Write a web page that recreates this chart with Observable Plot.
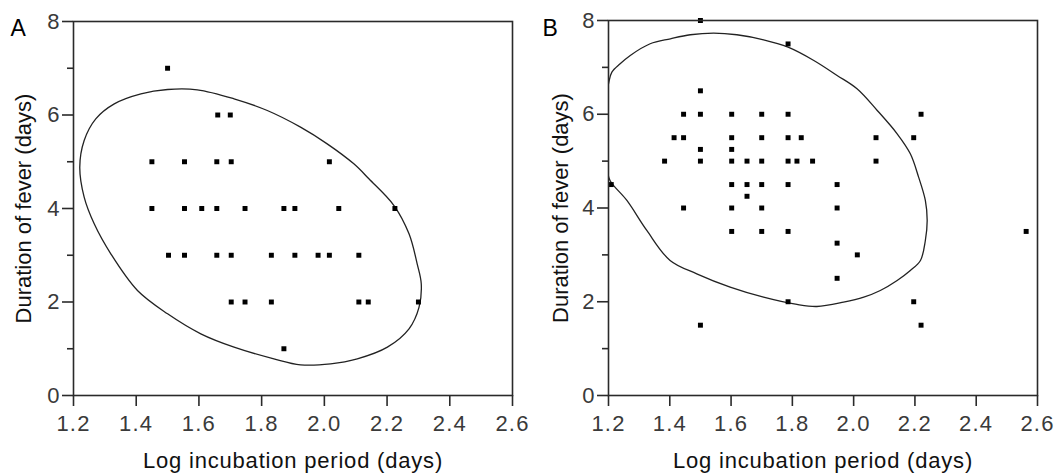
<!DOCTYPE html>
<html><head><meta charset="utf-8">
<script src="https://cdn.jsdelivr.net/npm/d3@7"></script>
<script src="https://cdn.jsdelivr.net/npm/@observablehq/plot@0.6"></script>
<style>
body{margin:0;background:#fff;}
#row{display:flex;width:1061px;height:473px;overflow:hidden;}
</style></head><body><div id="row"></div>
<script>
// Axis ticks
const xTicks = [1.2, 1.4, 1.6, 1.8, 2.0, 2.2, 2.4, 2.6];
const yTicks = [0, 2, 4, 6, 8];
const yMinorTicks = [1, 3, 5, 7];
const xLabel = "Log incubation period (days)";
const yLabel = "Duration of fever (days)";

// Panel A points
const aX = [1.50, 1.66, 1.70,
  1.45, 1.554, 1.657, 1.703, 2.016,
  1.45, 1.554, 1.609, 1.657, 1.747, 1.871, 1.906, 2.046, 2.225,
  1.503, 1.554, 1.657, 1.703, 1.831, 1.906, 1.98, 2.016, 2.11,
  1.703, 1.747, 1.831, 2.11, 2.14, 2.30,
  1.871];
const aY = [7, 6, 6,
  5, 5, 5, 5, 5,
  4, 4, 4, 4, 4, 4, 4, 4, 4,
  3, 3, 3, 3, 3, 3, 3, 3, 3,
  2, 2, 2, 2, 2, 2,
  1];

// Panel A ellipse outline
const aEllX = [1.220, 1.234, 1.271, 1.330, 1.415, 1.500, 1.595, 1.712, 1.818, 1.924, 2.009, 2.094, 2.142, 2.222, 2.270, 2.296, 2.309, 2.302, 2.270, 2.201, 2.105, 2.020, 1.924, 1.839, 1.712, 1.606, 1.500, 1.404, 1.319, 1.266, 1.234];
const aEllY = [4.884, 5.455, 5.918, 6.239, 6.453, 6.545, 6.538, 6.346, 6.096, 5.740, 5.383, 4.955, 4.635, 4.064, 3.458, 2.816, 2.389, 1.890, 1.426, 1.034, 0.784, 0.677, 0.656, 0.784, 1.034, 1.319, 1.747, 2.246, 3.030, 3.672, 4.242];

// Panel B points
const bX = [1.50, 1.786, 1.50,
  1.445, 1.50, 1.602, 1.70, 1.786, 2.22,
  1.414, 1.445, 1.602, 1.70, 1.786, 1.829, 2.073, 2.196,
  1.50, 1.602,
  1.383, 1.50, 1.602, 1.652, 1.70, 1.786, 1.815, 1.866, 2.073,
  1.209, 1.602, 1.652, 1.70, 1.786, 1.946,
  1.652,
  1.445, 1.602, 1.70, 1.946,
  1.602, 1.70, 1.786, 2.563,
  1.946, 2.012, 1.946,
  1.786, 2.196,
  1.50, 2.22];
const bY = [8, 7.5, 6.5,
  6, 6, 6, 6, 6, 6,
  5.5, 5.5, 5.5, 5.5, 5.5, 5.5, 5.5, 5.5,
  5.25, 5.25,
  5, 5, 5, 5, 5, 5, 5, 5, 5,
  4.5, 4.5, 4.5, 4.5, 4.5, 4.5,
  4.25,
  4, 4, 4, 4,
  3.5, 3.5, 3.5, 3.5,
  3.25, 3, 2.5,
  2, 2,
  1.5, 1.5];

// Panel B ellipse outline (left part runs past the frame)
const bEllX = [1.200, 1.211, 1.238, 1.271, 1.336, 1.402, 1.467, 1.543, 1.619, 1.706, 1.786, 1.870, 1.946, 2.011, 2.077, 2.142, 2.185, 2.212, 2.234, 2.240, 2.234, 2.218, 2.185, 2.142, 2.087, 2.033, 1.967, 1.880, 1.815, 1.706, 1.597, 1.488, 1.401, 1.325, 1.260, 1.205, 1.195, 1.185, 1.181, 1.187];
const bEllY = [6.650, 6.899, 7.077, 7.255, 7.504, 7.610, 7.696, 7.731, 7.696, 7.589, 7.432, 7.148, 6.828, 6.543, 6.081, 5.583, 5.156, 4.659, 4.161, 3.734, 3.307, 2.881, 2.667, 2.454, 2.240, 2.098, 1.991, 1.899, 1.942, 2.098, 2.312, 2.596, 2.881, 3.521, 4.161, 4.587, 4.85, 5.25, 5.75, 6.25];

const FONT = "'Liberation Sans', Arial, Helvetica, sans-serif";
const INK = "#2a2a2a";

function panel(opts) {
  const {letter, xs, ys, ex, ey, width, ml, mr, mt, mb, letterDx, letterDy, yLabDx} = opts;
  const pts = xs.map((x, i) => ({x, y: ys[i]}));
  const ell = ex.map((x, i) => ({x, y: ey[i]}));
  const svg = Plot.plot({
    width, height: 473,
    marginLeft: ml, marginRight: mr, marginTop: mt, marginBottom: mb,
    style: {fontFamily: FONT, fontSize: "22px", color: "#333", background: "#fff", overflow: "visible"},
    x: {domain: [1.2, 2.6]},
    y: {domain: [0, 8]},
    marks: [
      Plot.line(ell, {x: "x", y: "y", curve: "catmull-rom-closed", stroke: "#222", strokeWidth: 1.3, clip: true}),
      Plot.dot(pts, {x: "x", y: "y", symbol: "square", r: 2.8, fill: "#000", stroke: null}),
      Plot.frame({stroke: INK, strokeWidth: 1.6}),
      Plot.axisX({ticks: xTicks, tickFormat: d3.format(".1f"), tickSize: 11, tickPadding: 9, label: null, stroke: INK, strokeWidth: 1.6, fill: "#3a3a3a", fontSize: 22}),
      Plot.axisY({ticks: yTicks, tickFormat: d3.format("d"), tickSize: 11, tickPadding: 3, label: null, stroke: INK, strokeWidth: 1.6, fill: "#3a3a3a", fontSize: 22}),
      Plot.axisY({ticks: yMinorTicks, tickFormat: () => "", tickSize: 6, label: null, stroke: INK, strokeWidth: 1.6}),
      Plot.text([xLabel], {frameAnchor: "bottom", dy: 72, textAnchor: "middle", lineAnchor: "bottom", fontSize: 22, fill: "#111"}),
      Plot.text([yLabel], {frameAnchor: "left", dx: yLabDx, rotate: -90, textAnchor: "middle", lineAnchor: "middle", fontSize: 22, fill: "#111"}),
      Plot.text([letter], {frameAnchor: "top-left", dx: letterDx, dy: letterDy, textAnchor: "start", lineAnchor: "bottom", fontSize: 23, fill: "#000"})
    ]
  });
  // the reference's horizontal text is slightly wider: add a little letter spacing
  const s = d3.select(svg);
  s.selectAll('g[aria-label="x-axis tick label"] text').style("letter-spacing", "1.2px");
  s.selectAll("text").filter(function() { return this.textContent === xLabel; }).style("letter-spacing", "0.8px");
  return svg;
}

const row = document.getElementById("row");
row.appendChild(panel({letter: "A", xs: aX, ys: aY, ex: aEllX, ey: aEllY, width: 530, ml: 73, mr: 18, mt: 21, mb: 78, letterDx: -63, letterDy: 14, yLabDx: -50}));
row.appendChild(panel({letter: "B", xs: bX, ys: bY, ex: bEllX, ey: bEllY, width: 531, ml: 78, mr: 24, mt: 20, mb: 78, letterDx: -66, letterDy: 15, yLabDx: -48}));
</script>
</body></html>
